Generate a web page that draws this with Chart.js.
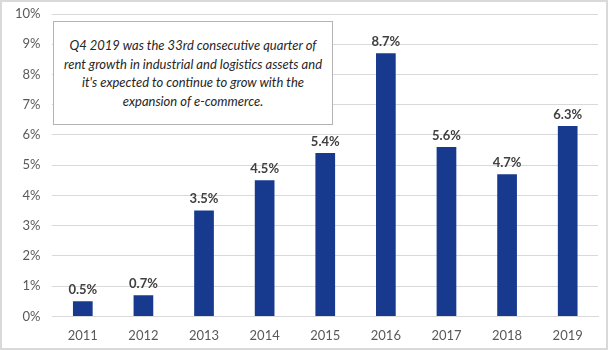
<!DOCTYPE html>
<html>
<head>
<meta charset="utf-8">
<script src="https://cdn.jsdelivr.net/npm/chart.js@4/dist/chart.umd.min.js"></script>
<style>
  html, body { margin: 0; padding: 0; background: #fff; }
  #wrap { position: relative; width: 608px; height: 350px; box-sizing: border-box; border: 2px solid #d9d9d9; }
  #c { position: absolute; left: -2px; top: -2px; }
  #note {
    position: absolute; left: 51px; top: 19px; width: 280px; height: 104px;
    border: 1px solid #b3b3b3; background: #fff; box-sizing: border-box;
    font-family: Lato, "Open Sans", sans-serif; font-style: italic; font-size: 13px;
    line-height: 18.5px; color: #262626; text-align: center;
    display: flex; align-items: center; justify-content: center; padding: 0 6px;
  }
</style>
</head>
<body>
<div id="wrap">
  <canvas id="c" width="608" height="350"></canvas>
  <div id="note">Q4 2019 was the 33rd consecutive quarter of rent growth in industrial and logistics assets and it's expected to continue to grow with the expansion of e-commerce.</div>
</div>
<script>
const years = ["2011","2012","2013","2014","2015","2016","2017","2018","2019"];
const rentGrowth = [0.5, 0.7, 3.5, 4.5, 5.4, 8.7, 5.6, 4.7, 6.3];
const yTicks = [0,1,2,3,4,5,6,7,8,9,10];

const labelPlugin = {
  id: 'valueLabels',
  afterDatasetsDraw(chart) {
    const ctx = chart.ctx;
    const meta = chart.getDatasetMeta(0);
    ctx.save();
    ctx.font = 'bold 13px Lato, "Open Sans", sans-serif';
    ctx.fillStyle = '#404040';
    ctx.textAlign = 'center';
    ctx.textBaseline = 'bottom';
    meta.data.forEach((bar, i) => {
      ctx.fillText(rentGrowth[i].toFixed(1) + '%', bar.x, bar.y - 5);
    });
    ctx.restore();
  }
};

new Chart(document.getElementById('c'), {
  type: 'bar',
  data: {
    labels: years,
    datasets: [{
      data: rentGrowth,
      backgroundColor: '#173A8F',
      barPercentage: 0.65,
      categoryPercentage: 0.5
    }]
  },
  options: {
    responsive: false,
    animation: false,
    layout: { padding: { left: 3, right: 10, top: 14, bottom: -6 } },
    plugins: { legend: { display: false }, tooltip: { enabled: false } },
    scales: {
      y: {
        min: 0, max: 10,
        afterBuildTicks(axis) { axis.ticks = yTicks.map(v => ({ value: v })); },
        afterFit(axis) { axis.paddingTop = 0; },
        ticks: {
          callback: v => v + '%',
          color: '#595959',
          font: { family: 'Lato, "Open Sans", sans-serif', size: 13 },
          padding: 12
        },
        grid: { color: '#d9d9d9', drawTicks: false },
        border: { display: false }
      },
      x: {
        ticks: {
          color: '#595959',
          font: { family: 'Lato, "Open Sans", sans-serif', size: 13 },
          padding: 12
        },
        grid: { display: false, drawTicks: false },
        border: { color: '#d9d9d9' }
      }
    }
  },
  plugins: [labelPlugin]
});
</script>
</body>
</html>
